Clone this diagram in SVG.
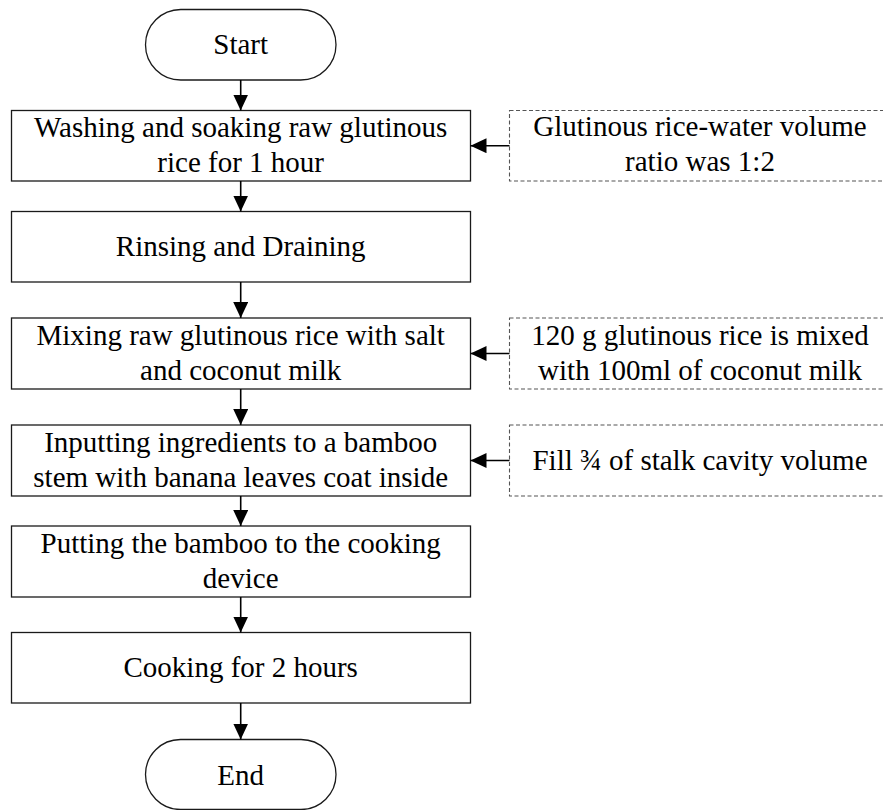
<svg xmlns="http://www.w3.org/2000/svg" width="883" height="810" viewBox="0 0 883 810">
<style>
.n{fill:#fff;stroke:#1a1a1a;stroke-width:1.3}
.d{fill:#fff;stroke:#555;stroke-width:1.1;stroke-dasharray:4 2.5}
.t{font-family:"Liberation Serif","Times New Roman",serif;font-size:29px;fill:#000;text-anchor:middle}
.c{stroke:#000;stroke-width:1.6;fill:none;marker-end:url(#ah)}
</style>
<defs>
<marker id="ah" markerUnits="userSpaceOnUse" markerWidth="17" markerHeight="15" refX="16" refY="7.5" orient="auto">
<path d="M0,0 L16,7.5 L0,15 Z" fill="#000"/>
</marker>
</defs>
<rect width="883" height="810" fill="#fff"/>
<g id="start"><rect class="n" x="145.5" y="9.5" width="190.5" height="70.5" rx="35.25"/><text class="t" x="240.7" y="54">Start</text></g>
<g id="box1"><rect class="n" x="11.5" y="110.5" width="459" height="70.5"/><text class="t" x="240.7" y="137">Washing and soaking raw glutinous</text><text class="t" x="240.7" y="172">rice for 1 hour</text></g>
<g id="box2"><rect class="n" x="11.5" y="211.5" width="459" height="70.5"/><text class="t" x="240.7" y="256">Rinsing and Draining</text></g>
<g id="box3"><rect class="n" x="11.5" y="318" width="459" height="71"/><text class="t" x="240.7" y="345">Mixing raw glutinous rice with salt</text><text class="t" x="240.7" y="380">and coconut milk</text></g>
<g id="box4"><rect class="n" x="11.5" y="425" width="459" height="71"/><text class="t" x="240.7" y="452">Inputting ingredients to a bamboo</text><text class="t" x="240.7" y="487">stem with banana leaves coat inside</text></g>
<g id="box5"><rect class="n" x="11.5" y="526" width="459" height="71"/><text class="t" x="240.7" y="553">Putting the bamboo to the cooking</text><text class="t" x="240.7" y="588">device</text></g>
<g id="box6"><rect class="n" x="11.5" y="632.5" width="459" height="70.5"/><text class="t" x="240.7" y="677">Cooking for 2 hours</text></g>
<g id="end"><rect class="n" x="145.5" y="739.5" width="190.5" height="70" rx="35"/><text class="t" x="240.7" y="784.5">End</text></g>
<g id="note1"><rect class="d" x="509.5" y="110.5" width="385" height="70.5"/><text class="t" x="700" y="136">Glutinous rice-water volume</text><text class="t" x="700" y="171">ratio was 1:2</text></g>
<g id="note2"><rect class="d" x="509.5" y="318" width="385" height="71"/><text class="t" x="700" y="345">120 g glutinous rice is mixed</text><text class="t" x="700" y="380">with 100ml of coconut milk</text></g>
<g id="note3"><rect class="d" x="509.5" y="425" width="385" height="71"/><text class="t" x="700" y="470">Fill ¾ of stalk cavity volume</text></g>
<g id="connectors">
<line class="c" x1="240.7" y1="80" x2="240.7" y2="110.5"/>
<line class="c" x1="240.7" y1="181" x2="240.7" y2="211.5"/>
<line class="c" x1="240.7" y1="282" x2="240.7" y2="318"/>
<line class="c" x1="240.7" y1="389" x2="240.7" y2="425"/>
<line class="c" x1="240.7" y1="496" x2="240.7" y2="526"/>
<line class="c" x1="240.7" y1="597" x2="240.7" y2="632.5"/>
<line class="c" x1="240.7" y1="703" x2="240.7" y2="739.5"/>
<line class="c" x1="509.5" y1="145.7" x2="470.5" y2="145.7"/>
<line class="c" x1="509.5" y1="353.5" x2="470.5" y2="353.5"/>
<line class="c" x1="509.5" y1="460.5" x2="470.5" y2="460.5"/>
</g>
</svg>
